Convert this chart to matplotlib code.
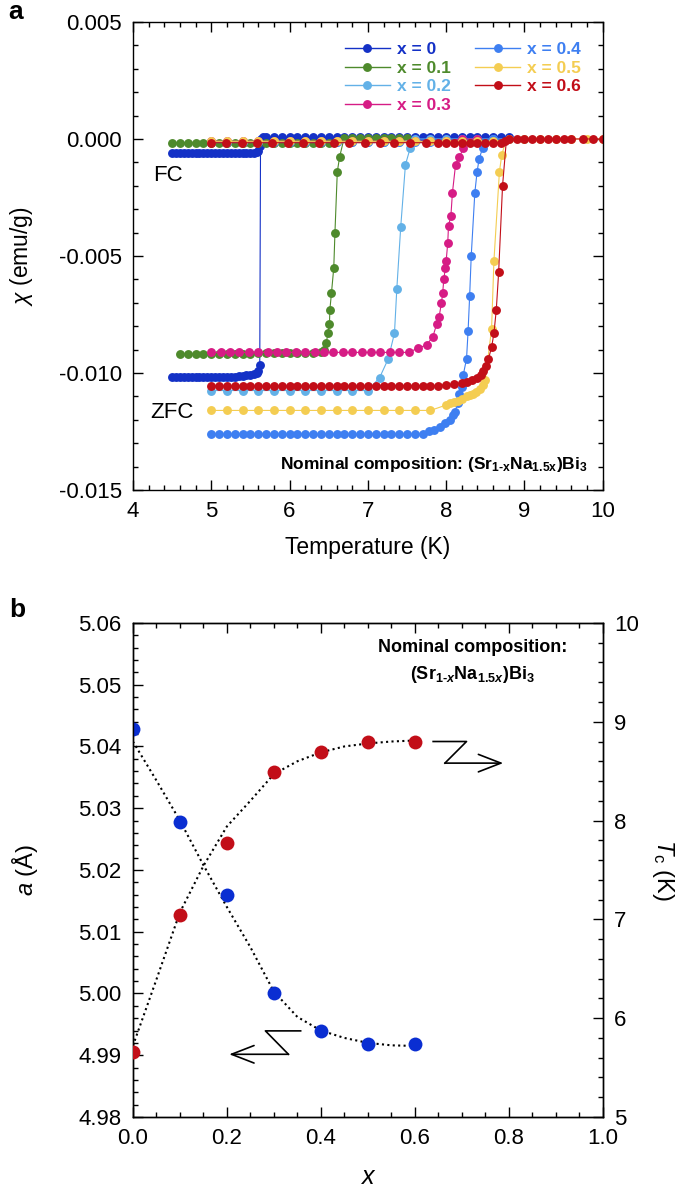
import matplotlib
matplotlib.use('Agg')
from matplotlib import pyplot as plt
from matplotlib.lines import Line2D
from matplotlib.ticker import MultipleLocator, FormatStrFormatter

plt.rcParams['font.family'] = ['Liberation Sans', 'DejaVu Sans']
plt.rcParams['mathtext.fontset'] = 'custom'
plt.rcParams['mathtext.rm'] = 'Liberation Sans'
plt.rcParams['mathtext.it'] = 'Liberation Sans:italic'
plt.rcParams['mathtext.bf'] = 'Liberation Sans:bold'
plt.rcParams['mathtext.bfit'] = 'Liberation Sans:bold:italic'
plt.rc('xtick', labelsize=16, direction='in', top=True)
plt.rc('ytick', labelsize=16, direction='in', right=True)
plt.rc('xtick.major', size=7, width=1, pad=8)
plt.rc('ytick.major', size=7, width=1, pad=8)
plt.rc('xtick.minor', size=3.5, width=1, visible=True)
plt.rc('ytick.minor', size=3.5, width=1, visible=True)
plt.rc('axes', linewidth=1)

# ---------------- panel a : chi(T), ZFC and FC ----------------
labels = ['x = 0', 'x = 0.1', 'x = 0.2', 'x = 0.3', 'x = 0.4', 'x = 0.5', 'x = 0.6']
colors = ['#1431c6', '#4e8a2c', '#63b1e7', '#d61c85', '#3e7ff1', '#f4cd52', '#c20e18']

# x = 0
zfc_t_00 = [4.50, 4.55, 4.60, 4.65, 4.70, 4.75, 4.80, 4.85, 4.90, 4.95, 5.00, 5.05, 5.10,
            5.15, 5.20, 5.25, 5.30, 5.35, 5.40, 5.45, 5.50, 5.55, 5.58, 5.60, 5.62, 5.63]
zfc_c_00 = [-0.01016] * 17 + [-0.01014, -0.01012, -0.0101, -0.01008, -0.01004, -0.0100,
                              -0.0099, -0.00966, 0.0001]
fc_t_00 = [4.50, 4.55, 4.60, 4.65, 4.70, 4.75, 4.80, 4.85, 4.90, 4.95, 5.00, 5.05, 5.10,
           5.15, 5.20, 5.25, 5.30, 5.35, 5.40, 5.45, 5.50, 5.55, 5.58, 5.60, 5.62, 5.64,
           5.66, 5.70, 5.80, 5.90, 6.00, 6.10, 6.20, 6.30, 6.40, 6.50, 6.60, 6.70, 6.80,
           6.90, 7.00, 7.10, 7.20, 7.30, 7.40, 7.50, 7.60, 7.70, 7.80, 7.90, 8.00, 8.10,
           8.20, 8.30, 8.40, 8.50, 8.60, 8.70, 8.80]
fc_c_00 = [-0.00058] * 22 + [-0.00055, -0.0005, -0.0003, 0.0, 0.00007] + [0.00007] * 32

# x = 0.1
zfc_t_01 = [4.6, 4.7, 4.8, 4.9, 5.0, 5.1, 5.2, 5.3, 5.4, 5.5, 5.6, 5.7, 5.8, 5.9, 6.0,
            6.1, 6.2, 6.3, 6.4, 6.44, 6.47, 6.49, 6.51, 6.515, 6.535, 6.565, 6.58, 6.61,
            6.64, 6.68]
zfc_c_01 = [-0.0092] * 10 + [-0.00915] * 8 + [-0.0091, -0.0090, -0.0087, -0.0083, -0.0079,
                                              -0.0073, -0.0066, -0.0055, -0.0040, -0.0014,
                                              -0.00076, -0.0002]
fc_t_01 = [4.5, 4.6, 4.7, 4.8, 4.9, 5.0, 5.1, 5.2, 5.3, 5.4, 5.5, 5.6, 5.7, 5.8, 5.9, 6.0,
           6.1, 6.2, 6.3, 6.4, 6.5, 6.6, 6.7, 6.8, 6.9, 7.0, 7.1, 7.2, 7.3, 7.4, 7.5]
fc_c_01 = [-0.00016] * 21 + [-0.0001] + [0.00003] * 9

# x = 0.2
zfc_t_02 = [5.0, 5.2, 5.4, 5.6, 5.8, 6.0, 6.2, 6.4, 6.6, 6.8, 7.0,
            7.15, 7.26, 7.34, 7.37, 7.42, 7.48, 7.54, 7.62]
zfc_c_02 = [-0.01075] * 11 + [-0.0102, -0.0094, -0.0083, -0.0064, -0.00375, -0.0011,
                              -0.0004, -0.0001]
fc_t_02 = [5.0, 5.2, 5.4, 5.6, 5.8, 6.0, 6.2, 6.4, 6.6, 6.8, 7.0, 7.2, 7.4, 7.6, 7.8,
           8.0, 8.2, 8.4, 8.6, 8.8, 9.0]
fc_c_02 = [-0.00015] * 13 + [0.0] * 8

# x = 0.3
zfc_t_03 = [5.00, 5.12, 5.24, 5.36, 5.48, 5.60, 5.72, 5.84, 5.96, 6.08, 6.20, 6.32, 6.44,
            6.56, 6.68, 6.80, 6.92, 7.04, 7.16, 7.28, 7.40, 7.52,
            7.64, 7.75, 7.83, 7.88, 7.91, 7.94, 7.955, 7.97, 7.99, 8.00, 8.02, 8.03, 8.06,
            8.08, 8.12, 8.17, 8.22, 8.30]
zfc_c_03 = [-0.00912] * 22 + [-0.00894, -0.0088, -0.00845, -0.0079, -0.0076, -0.0070,
                              -0.0066, -0.0060, -0.0055, -0.0052, -0.00446, -0.0037,
                              -0.0033, -0.0023, -0.0011, -0.00076, -0.0004, -0.0001]
fc_t_03 = [5.0, 5.2, 5.4, 5.6, 5.8, 6.0, 6.2, 6.4, 6.6, 6.8, 7.0, 7.2, 7.4, 7.6, 7.8,
           8.0, 8.2, 8.4]
fc_c_03 = [-0.0001] * 16 + [0.0] * 2

# x = 0.4
zfc_t_04 = [5.0, 5.1, 5.2, 5.3, 5.4, 5.5, 5.6, 5.7, 5.8, 5.9, 6.0, 6.1, 6.2, 6.3, 6.4,
            6.5, 6.6, 6.7, 6.8, 6.9, 7.0, 7.1, 7.2, 7.3, 7.4, 7.5, 7.6, 7.7,
            7.78, 7.85, 7.92, 7.98, 8.05, 8.09, 8.11, 8.15, 8.17, 8.205, 8.217, 8.26,
            8.28, 8.30, 8.32, 8.366, 8.395, 8.42, 8.464, 8.52]
zfc_c_04 = [-0.01262] * 28 + [-0.0125, -0.01245, -0.0123, -0.01215, -0.0120, -0.0118,
                              -0.01165, -0.0113, -0.0109, -0.0106, -0.0101, -0.0094,
                              -0.0082, -0.0067, -0.0050, -0.0023, -0.0014, -0.00087,
                              -0.0004, -0.0001]
fc_t_04 = [5.0, 5.2, 5.4, 5.6, 5.8, 6.0, 6.2, 6.4, 6.6, 6.8, 7.0, 7.2, 7.4, 7.6, 7.8,
           8.0, 8.2, 8.4, 8.6]
fc_c_04 = [-0.00015] * 18 + [0.0]

# x = 0.5
zfc_t_05 = [5.0, 5.2, 5.4, 5.6, 5.8, 6.0, 6.2, 6.4, 6.6, 6.8, 7.0, 7.2, 7.4, 7.6, 7.8,
            8.00, 8.05, 8.10, 8.15, 8.20, 8.26, 8.30, 8.34, 8.38, 8.43, 8.47, 8.50, 8.58,
            8.61, 8.68, 8.71, 8.76]
zfc_c_05 = [-0.0116] * 15 + [-0.01137, -0.0113, -0.01125, -0.0112, -0.0111, -0.0110,
                             -0.01095, -0.0109, -0.0108, -0.0107, -0.0105, -0.0103,
                             -0.0081, -0.0052, -0.0014, -0.00068, -0.0001]
fc_t_05 = [5.0, 5.2, 5.4, 5.6, 5.8, 6.0, 6.2, 6.4, 6.6, 6.8, 7.0, 7.2, 7.4, 7.6, 7.8,
           8.0, 8.2, 8.4, 8.6, 8.8, 9.0, 9.2, 9.4, 9.6, 9.8, 10.0]
fc_c_05 = [-0.0001] * 19 + [0.0] * 7

# x = 0.6
zfc_t_06 = [5.0, 5.1, 5.2, 5.3, 5.4, 5.5, 5.6, 5.7, 5.8, 5.9, 6.0, 6.1, 6.2, 6.3, 6.4,
            6.5, 6.6, 6.7, 6.8, 6.9, 7.0, 7.1, 7.2, 7.3, 7.4, 7.5, 7.6, 7.7, 7.8, 7.9,
            8.00, 8.10, 8.20, 8.26, 8.33, 8.39, 8.44, 8.47, 8.51, 8.54, 8.58, 8.61, 8.64,
            8.67, 8.72, 8.77]
zfc_c_06 = [-0.01056] * 20 + [-0.01054] * 10 + [-0.0105, -0.01048, -0.01042, -0.01037,
                                                -0.0103, -0.0102, -0.0101, -0.0099,
                                                -0.0097, -0.0094, -0.0089, -0.0083,
                                                -0.0073, -0.0057, -0.0020, 0.0]
fc_t_06 = [5.0, 5.19, 5.39, 5.59, 5.78, 5.98, 6.17, 6.37, 6.57, 6.76, 6.96, 7.15, 7.34,
           7.54, 7.74, 7.90, 8.0, 8.1, 8.2, 8.3, 8.4, 8.5, 8.6, 8.7, 8.75, 8.8, 8.9, 9.0,
           9.1, 9.2, 9.3, 9.4, 9.5, 9.6, 9.75, 9.88, 10.0]
fc_c_06 = [-0.00016] * 24 + [-0.0001] + [0.0] * 12

# ---------------- panel b : lattice parameter and Tc ----------------
x_nom = [0.0, 0.1, 0.2, 0.3, 0.4, 0.5, 0.6]
a_latt = [5.0428, 5.0278, 5.0159, 5.0000, 4.9939, 4.9918, 4.9918]
tc_vals = [5.66, 7.04, 7.77, 8.49, 8.69, 8.79, 8.80]
# dotted guide lines
x_guide = [0.0, 0.05, 0.1, 0.15, 0.2, 0.25, 0.3, 0.35, 0.4, 0.45, 0.5, 0.55, 0.6]
a_guide = [5.0408, 5.0345, 5.0280, 5.0208, 5.0140, 5.0075, 5.0003, 4.9962, 4.9940,
           4.9928, 4.9920, 4.9916, 4.9915]
tc_guide = [5.72, 6.39, 7.07, 7.54, 7.94, 8.20, 8.47, 8.60, 8.69, 8.75, 8.78, 8.80, 8.81]

series = [(zfc_t_00, zfc_c_00, fc_t_00, fc_c_00),
          (zfc_t_01, zfc_c_01, fc_t_01, fc_c_01),
          (zfc_t_02, zfc_c_02, fc_t_02, fc_c_02),
          (zfc_t_03, zfc_c_03, fc_t_03, fc_c_03),
          (zfc_t_04, zfc_c_04, fc_t_04, fc_c_04),
          (zfc_t_05, zfc_c_05, fc_t_05, fc_c_05),
          (zfc_t_06, zfc_c_06, fc_t_06, fc_c_06)]

fig = plt.figure(figsize=(6.85, 11.87), dpi=100)
ax = fig.add_axes([0.194, 0.5872, 0.686, 0.3943])

ms = 6.4
for (zt, zc, ft, fc), col in zip(series, colors):
    ax.plot(ft, fc, '-o', color=col, ms=ms, lw=0.8, mec='none')
    ax.plot(zt, zc, '-o', color=col, ms=ms, lw=0.8, mec='none', markevery=slice(0, -1))

ax.set_xlim(4, 10)
ax.set_ylim(-0.015, 0.005)
ax.xaxis.set_major_locator(MultipleLocator(1))
ax.xaxis.set_minor_locator(MultipleLocator(0.2))
ax.yaxis.set_major_locator(MultipleLocator(0.005))
ax.yaxis.set_minor_locator(MultipleLocator(0.001))
ax.yaxis.set_major_formatter(FormatStrFormatter('%.3f'))
ax.set_xlabel('Temperature (K)', fontsize=16.5)
ax.set_ylabel(r'$\chi$ (emu/g)', fontsize=16.5)
ax.xaxis.set_label_coords(0.5, -0.122)
ax.yaxis.set_label_coords(-0.236, 0.5)
ax.xaxis.label.set_va('center')
ax.yaxis.label.set_va('center')

ax.text(4.255, -0.00158, 'FC', fontsize=16, va='center')
ax.text(4.217, -0.01167, 'ZFC', fontsize=16, va='center')
ax.text(9.81, -0.01393, r'Nominal composition: (Sr$_{\mathbf{1‐x}}$Na$_{\mathbf{1.5x}}$)Bi$_{\mathbf{3}}$',
        fontsize=12.5, fontweight='bold', ha='right', va='center')

handles = [Line2D([], [], color=c, marker='o', ms=6.4, lw=1, mec='none') for c in colors]
ax.legend(handles, labels, ncol=2, loc='upper left', bbox_to_anchor=(0.451, 0.957),
          frameon=False, handlelength=2.6, handletextpad=0.4, columnspacing=1.4,
          labelspacing=0.2, labelcolor='linecolor', borderaxespad=0, borderpad=0,
          prop={'weight': 'bold', 'size': 12.5})

# ---------------- panel b ----------------
axb = fig.add_axes([0.194, 0.059, 0.686, 0.4162])
ax2 = axb.twinx()
axb.tick_params(which='both', right=False)
ax2.tick_params(which='both', direction='in', right=True, left=False, top=False, bottom=False)

axb.plot(x_guide, a_guide, color='k', lw=1.5, ls=(0, (1.0, 1.6)))
ax2.plot(x_guide, tc_guide, color='k', lw=1.5, ls=(0, (1.0, 1.6)))
axb.plot(x_nom, a_latt, 'o', color='#0a2ed2', ms=10, mec='none', zorder=3)
ax2.plot(x_nom, tc_vals, 'o', color='#c20e18', ms=10, mec='none', zorder=3)

axb.set_xlim(0, 1)
axb.set_ylim(4.98, 5.06)
ax2.set_ylim(5, 10)
axb.xaxis.set_major_locator(MultipleLocator(0.2))
axb.xaxis.set_minor_locator(MultipleLocator(0.05))
axb.yaxis.set_major_locator(MultipleLocator(0.01))
axb.yaxis.set_minor_locator(MultipleLocator(0.002))
ax2.yaxis.set_major_locator(MultipleLocator(1))
ax2.yaxis.set_minor_locator(MultipleLocator(0.2))
axb.xaxis.set_major_formatter(FormatStrFormatter('%.1f'))
axb.yaxis.set_major_formatter(FormatStrFormatter('%.2f'))

axb.set_xlabel(r'$x$', fontsize=18)
axb.set_ylabel(r'$a$ (Å)', fontsize=17)
ax2.set_ylabel(r'$T_{\mathrm{c}}$ (K)', fontsize=17, rotation=270)
axb.xaxis.set_label_coords(0.5, -0.121)
axb.yaxis.set_label_coords(-0.23, 0.5)
ax2.yaxis.set_label_coords(1.128, 0.5)
for lab in (axb.xaxis.label, axb.yaxis.label, ax2.yaxis.label):
    lab.set_va('center')
    lab.set_ha('center')

# Z-shaped pointer arrows
axb.plot([0.639, 0.710, 0.664], [5.0408, 5.0408, 5.0373], color='k', lw=1.2)
axb.annotate('', xy=(0.788, 5.0373), xytext=(0.664, 5.0373),
             arrowprops=dict(arrowstyle='->,head_length=0.9,head_width=0.35', lw=1.2,
                             color='k', shrinkA=0, shrinkB=0, mutation_scale=18))
axb.plot([0.357, 0.282, 0.331], [4.99394, 4.99394, 4.99015], color='k', lw=1.2)
axb.annotate('', xy=(0.205, 4.99015), xytext=(0.331, 4.99015),
             arrowprops=dict(arrowstyle='->,head_length=0.9,head_width=0.35', lw=1.2,
                             color='k', shrinkA=0, shrinkB=0, mutation_scale=18))

axb.text(0.723, 5.0561, 'Nominal composition:', fontsize=13, fontweight='bold',
         ha='center', va='center')
axb.text(0.723, 5.0516, r'(Sr$_{\mathbf{1‐}\mathbfit{x}}$Na$_{\mathbf{1.5}\mathbfit{x}}$)Bi$_{\mathbf{3}}$',
         fontsize=13, fontweight='bold', ha='center', va='center')

fig.text(0.012, 1 - 12 / 1187, 'a', fontsize=19, fontweight='bold', va='center')
fig.text(0.013, 1 - 610 / 1187, 'b', fontsize=19, fontweight='bold', va='center')

fig.savefig('out.png', dpi=100)
